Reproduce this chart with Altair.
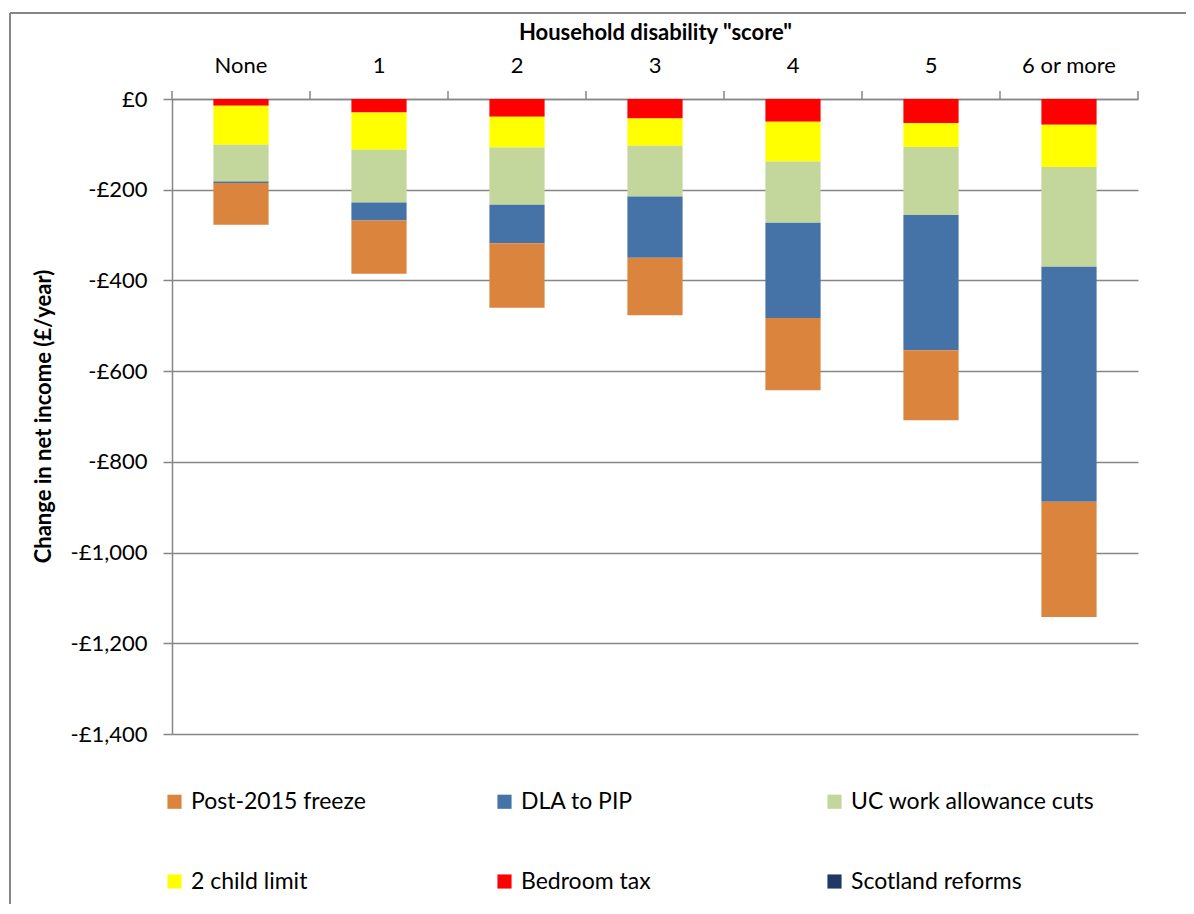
import altair as alt
import pandas as pd

categories = ["None", "1", "2", "3", "4", "5", "6 or more"]

legend_order = ["Post-2015 freeze", "DLA to PIP", "UC work allowance cuts",
                "2 child limit", "Bedroom tax", "Scotland reforms"]
colors = ["#DB843D", "#4572A7", "#C3D69B", "#FFFF00", "#FF0000", "#1F3864"]

freeze = [-92, -117, -142, -127, -159, -154, -254]
dla = [-3, -40, -85, -135, -210, -298, -518]
uc_cuts = [-81, -116, -126, -112, -135, -150, -220]
child_limit = [-86, -82, -68, -60, -88, -53, -93]
bedroom = [-15, -30, -39, -43, -50, -53, -57]
scotland = [0, 0, 0, 0, 0, 0, 0]

y_ticks = [0, -200, -400, -600, -800, -1000, -1200, -1400]

# stacking order from zero downward
stack_series = [("Bedroom tax", bedroom), ("2 child limit", child_limit),
                ("UC work allowance cuts", uc_cuts), ("DLA to PIP", dla),
                ("Post-2015 freeze", freeze), ("Scotland reforms", scotland)]

rows = []
for k, (name, vals) in enumerate(stack_series):
    for c, v in zip(categories, vals):
        rows.append({"cat": c, "series": name, "value": v, "ord": k})
df = pd.DataFrame(rows)
tick_df = pd.DataFrame({"cat": categories})

FONT = "Lato"
GRAY = "#868686"
X_TITLE = 'Household disability "score"'


def mk_x(bp=None):
    kw = {}
    if bp is not None:
        kw["bandPosition"] = bp
    return alt.X(
        "cat:N", sort=categories,
        scale=alt.Scale(paddingInner=0, paddingOuter=0),
        axis=alt.Axis(orient="top", title=X_TITLE, titleFontSize=22,
                      titleFont=FONT, titleFontWeight="bold", titleColor="black",
                      titleY=-67, titleBaseline="middle",
                      labelAngle=0, labelFontSize=22, labelFont=FONT,
                      labelColor="black", labelPadding=22,
                      ticks=False, domain=True, domainColor=GRAY,
                      domainWidth=1.5, grid=False),
        **kw,
    )


bars = alt.Chart(df).mark_bar(width=alt.RelativeBandSize(0.4)).encode(
    x=mk_x(),
    y=alt.Y("value:Q", stack="zero",
            scale=alt.Scale(domain=[-1400, 0], nice=False),
            axis=alt.Axis(values=y_ticks, title="Change in net income (£/year)",
                          titleFont=FONT, titleFontSize=22, titleFontWeight="bold",
                          titleColor="black", titleAngle=-90, titleX=-129,
                          titleY=317, titleAlign="center", titleBaseline="middle",
                          labelFont=FONT, labelFontSize=22, labelColor="black",
                          labelPadding=16,
                          labelExpr="datum.value == 0 ? '£0' : '-£' + format(-datum.value, ',')",
                          tickSize=9, tickColor=GRAY, tickWidth=1.5,
                          domainColor=GRAY, domainWidth=1.5,
                          grid=True, gridColor=GRAY, gridWidth=1.5)),
    color=alt.Color("series:N",
                    scale=alt.Scale(domain=legend_order, range=colors),
                    legend=alt.Legend(orient="none", legendX=-9, legendY=691,
                                      direction="horizontal", columns=3,
                                      title=None, symbolType="square",
                                      symbolSize=200, symbolStrokeWidth=0,
                                      labelFont=FONT, labelFontSize=23,
                                      labelColor="black", labelOffset=5,
                                      labelLimit=400, gridAlign="all",
                                      columnPadding=58, rowPadding=56)),
    order=alt.Order("ord:Q", sort="ascending"),
)

ticks_left = alt.Chart(tick_df).mark_rule(color=GRAY, strokeWidth=1.5).encode(
    x=mk_x(0), y=alt.value(-8), y2=alt.value(0))

ticks_right = alt.Chart(tick_df).transform_filter(
    alt.datum.cat == categories[-1]
).mark_rule(color=GRAY, strokeWidth=1.5).encode(
    x=mk_x(1), y=alt.value(-8), y2=alt.value(0))

border_top = alt.Chart(tick_df).mark_rule(color=GRAY, strokeWidth=2).encode(
    x=alt.value(-162), x2=alt.value(1014), y=alt.value(-86))
border_left = alt.Chart(tick_df).mark_rule(color=GRAY, strokeWidth=2).encode(
    x=alt.value(-162), y=alt.value(-86), y2=alt.value(830))

chart = alt.layer(bars, ticks_left, ticks_right, border_top, border_left).properties(
    width=966, height=635,
    padding={"left": 164, "top": 91, "right": 48, "bottom": 170},
    autosize=alt.AutoSizeParams(type="none"),
).configure_view(stroke=None)

chart.save("out.html", embed_options={"renderer": "svg", "actions": False})
